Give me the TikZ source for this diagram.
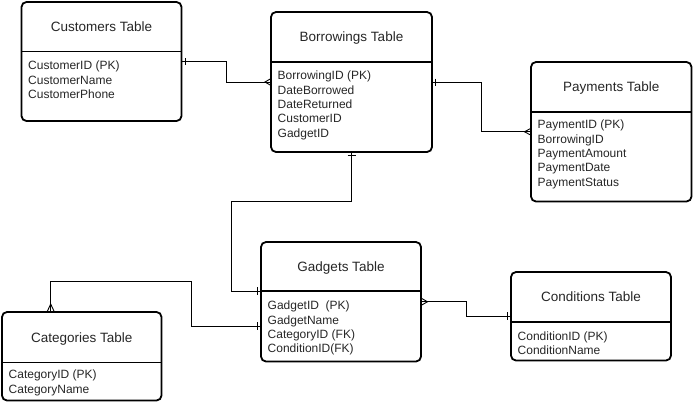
\documentclass[tikz,border=0pt]{standalone}
\usepackage{fontspec}
\setmainfont{Liberation Sans}
\usetikzlibrary{calc}
\tikzset{
  tablebox/.style={draw=black, line width=1.8pt, rounded corners=5pt, inner sep=0pt, outer sep=0pt},
  divider/.style={draw=black, line width=1.6pt},
  titletxt/.style={inner sep=0pt, font=\fontsize{13.5}{16}\selectfont, text=black!85, text height=9.7pt, text depth=0pt, anchor=center},
  rowtxt/.style={inner sep=0pt, font=\fontsize{12}{14}\selectfont, text=black!85, text height=8.6pt, text depth=0pt, anchor=west},
  conn/.style={draw=black, line width=0.9pt},
}
\newcommand\ertable[9]{%
  \node[tablebox, minimum width={#4-#2}, minimum height={#5-#3}] (#1) at ({(#2+#4)/2},{(#3+#5)/2}) {};
  \draw[divider] (#2,#6) -- (#4,#6);
  \node[titletxt] (#1-title) at ({(#2+#4)/2},{(#3+#6)/2}) {#7};
  \foreach \r [count=\i] in {#9} \node[rowtxt] (#1-r\i) at ({#2+6.5},{#8+(\i-1)*14.3}) {\r};
}
\begin{document}
\begin{tikzpicture}[x=1pt,y=-1pt]
\useasboundingbox (0,0) rectangle (693,402);

\ertable{cust}{21.5}{2}{181.5}{121}{51.5}{Customers Table}{65.5}{CustomerID (PK),CustomerName,CustomerPhone}
\ertable{borr}{271}{12}{432}{152}{61.7}{Borrowings Table}{75.5}{BorrowingID (PK),DateBorrowed,DateReturned,CustomerID,GadgetID}
\ertable{pay}{531}{62}{691.5}{201.5}{111.7}{Payments Table}{124.5}{PaymentID (PK),BorrowingID,PaymentAmount,PaymentDate,PaymentStatus}
\ertable{gad}{261}{242}{421}{361.5}{291}{Gadgets Table}{305.5}{GadgetID~ (PK),GadgetName,CategoryID (FK),ConditionID(FK)}
\ertable{cat}{2}{312}{161.5}{400.5}{362.5}{Categories Table}{374.5}{CategoryID (PK),CategoryName}
\ertable{cond}{511}{272}{671}{360.5}{322}{Conditions Table}{336}{ConditionID (PK),ConditionName}

\coordinate (gadW1) at ($(gad.north west)+(0,49)$);
\coordinate (gadW2) at ($(gad.north west)+(0,84)$);
\coordinate (catN) at ($(cat.north west)+(48.7,0)$);

% Customers -> Borrowings
\draw[conn] (cust.east) -- ++(45.2,0) |- (borr.west);
\draw[conn] ($(cust.east)+(3.5,-3.5)$) -- ++(0,7);
\draw[conn] ($(borr.west)+(0,-3.5)$) -- ($(borr.west)+(-6,0)$) -- ($(borr.west)+(0,3.5)$);

% Borrowings -> Payments
\draw[conn] (borr.east) -- ++(49,0) |- (pay.west);
\draw[conn] ($(borr.east)+(3.5,-3.5)$) -- ++(0,7);
\draw[conn] ($(pay.west)+(0,-3.5)$) -- ($(pay.west)+(-6.5,0)$) -- ($(pay.west)+(0,3.5)$);

% Borrowings -> Gadgets
\draw[conn] (borr.south) -- ++(0,49) -| ($(gadW1)+(-29.3,0)$) -- (gadW1);
\draw[conn] ($(borr.south)+(-4,3.5)$) -- ++(8,0);
\draw[conn] ($(gadW1)+(-3.7,-4)$) -- ++(0,8);

% Categories -> Gadgets
\draw[conn] (catN) -- ++(0,-31) -| ($(gadW2)+(-69.3,0)$) -- (gadW2);
\draw[conn] ($(catN)+(-3.7,0)$) -- ($(catN)+(0,-8)$) -- ($(catN)+(3.7,0)$);
\draw[conn] ($(gadW2)+(-3.7,-4)$) -- ++(0,8);

% Gadgets -> Conditions
\draw[conn] (gad.east) -- ++(45.7,0) |- (cond.west);
\draw[conn] ($(gad.east)+(0,-3.7)$) -- ($(gad.east)+(6.5,0)$) -- ($(gad.east)+(0,3.7)$);
\draw[conn] ($(cond.west)+(-3.5,-4)$) -- ++(0,8);
\end{tikzpicture}
\end{document}
